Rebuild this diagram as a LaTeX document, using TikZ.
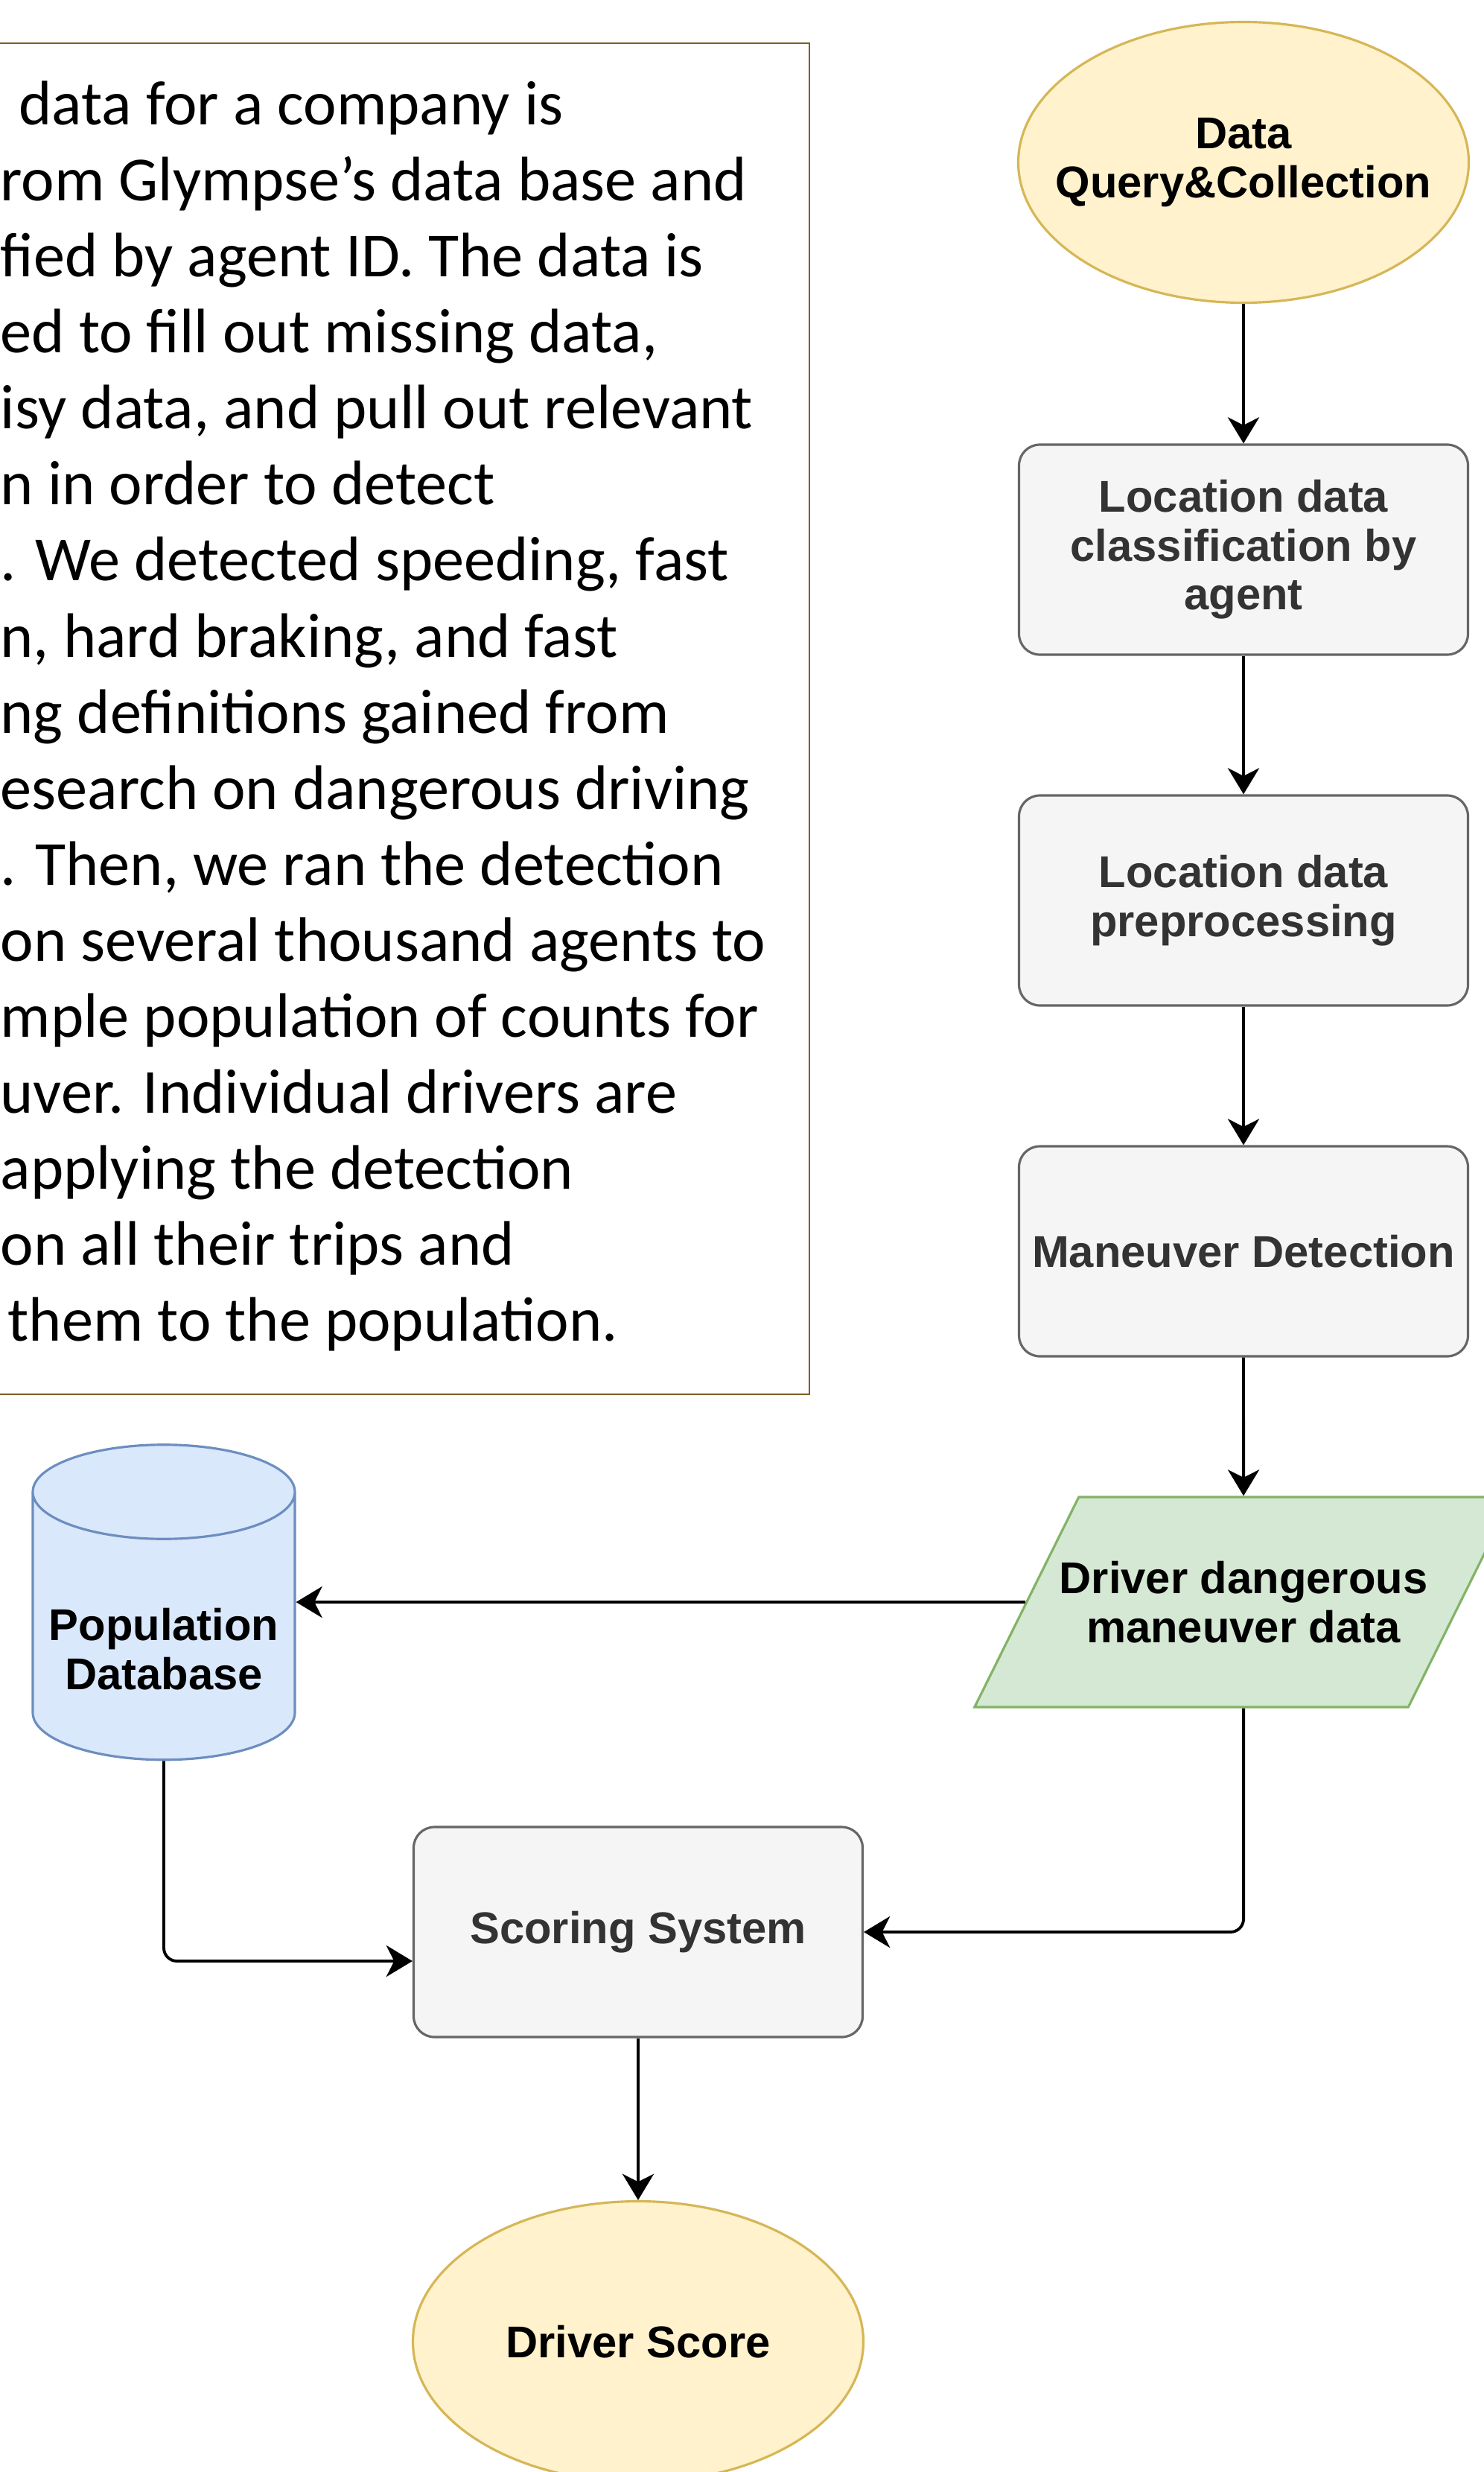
\documentclass[tikz,border=0pt]{standalone}
\usepackage{fontspec}
\setmainfont{Carlito}
\newfontfamily\flowfont{Liberation Sans}
\usetikzlibrary{arrows.meta,shapes.geometric,positioning}
\definecolor{noteline}{RGB}{125,95,35}
\definecolor{yellowfill}{HTML}{FFF2CC}
\definecolor{yellowline}{HTML}{D6B656}
\definecolor{grayfill}{HTML}{F5F5F5}
\definecolor{grayline}{HTML}{666666}
\definecolor{graytext}{HTML}{333333}
\definecolor{greenfill}{HTML}{D5E8D4}
\definecolor{greenline}{HTML}{82B366}
\definecolor{bluefill}{HTML}{DAE8FC}
\definecolor{blueline}{HTML}{6C8EBF}
\tikzstyle{notebox} = [draw=noteline, line width=0.7pt, inner sep=0pt, minimum width=110.6mm, minimum height=181.4mm]
\tikzstyle{story} = [anchor=base west, inner sep=0pt, font=\fontsize{24}{29}\selectfont]
\tikzstyle{flowtext} = [align=center, font=\flowfont\bfseries\fontsize{17}{18.6}\selectfont]
\tikzstyle{terminal} = [ellipse, flowtext, draw=yellowline, fill=yellowfill, line width=0.9pt, inner xsep=-5mm, inner ysep=0pt, minimum width=60.5mm, minimum height=37.7mm]
\tikzstyle{procbox} = [rectangle, flowtext, draw=grayline, fill=grayfill, text=graytext, line width=0.9pt, rounded corners=2.8mm, minimum width=60.3mm, minimum height=28.2mm]
\tikzstyle{dataio} = [trapezium, flowtext, draw=greenline, fill=greenfill, line width=0.9pt, trapezium left angle=63.6, trapezium right angle=116.4, inner xsep=-3.6mm, inner ysep=8mm, minimum width=70.4mm, minimum height=28.2mm]
\tikzstyle{store} = [cylinder, shape border rotate=90, aspect=5.4, draw=blueline, fill=bluefill, line width=0.9pt, minimum width=35.2mm, minimum height=42.3mm]
\tikzstyle{flow} = [draw, line width=1.1pt]

\begin{document}
\begin{tikzpicture}[x=1mm, y=-1mm, node distance=47.1mm, >={Stealth[length=10pt,width=12pt,inset=3pt]}]
    \useasboundingbox (0,0) rectangle (199.2,331.9);
    % write-up, cut at the left edge
    \node[notebox, anchor=north west] (note) at (-2,5.7) {};
    \foreach \ln [count=\i] in {{\hspace{2.5mm}data for a company is},{rom Glympse’s data base and},{fied by agent ID. The data is},{ed to fill out missing data,},{isy data, and pull out relevant},{n in order to detect},{. We detected speeding, fast},{n, hard braking, and fast},{ng definitions gained from},{esearch on dangerous driving},{. Then, we ran the detection},{on several thousand agents to},{mple population of counts for},{uver. Individual drivers are},{applying the detection},{on all their trips and},{\hspace{1mm}them to the population.}}
        \node[story] (line\i) at (0,{16.8+10.2*(\i-1)}) {\ln};

    \node[terminal] (fetch) at (167,21.8) {Data\\Query\&Collection};
    \node[procbox] (classify) at (167,73.8) {Location data\\classification by\\agent};
    \node[procbox, below of=classify] (prep) {Location data\\preprocessing};
    \node[procbox, below of=prep] (detect) {Maneuver Detection};
    \node[dataio, below of=detect] (maneuver) {Driver dangerous\\maneuver data};
    \node[store] (pdb) at (22,219.5) {};
    \node[flowtext] (pdbtext) at ([yshift=-1.9mm]pdb.center) {Population\\Database};
    \node[procbox] (score) at (85.7,259.4) {Scoring System};
    \node[terminal, node distance=55mm, below of=score] (result) {Driver Score};
    \draw[flow]
    (fetch) edge[->] (classify)
    (classify) edge[->] (prep)
    (prep) edge[->] (detect)
    (detect) edge[->] (maneuver)
    (maneuver.left side) edge[->] (maneuver.left side -| pdb.east)
    (maneuver.south) edge[->, rounded corners=5pt, to path={|- (\tikztotarget)}] (score.east)
    (pdb.south) edge[->, rounded corners=5pt, to path={|- (\tikztotarget)}] ([yshift=-3.9mm]score.west)
    (score) edge[->] (result)
    ;
\end{tikzpicture}
\end{document}
